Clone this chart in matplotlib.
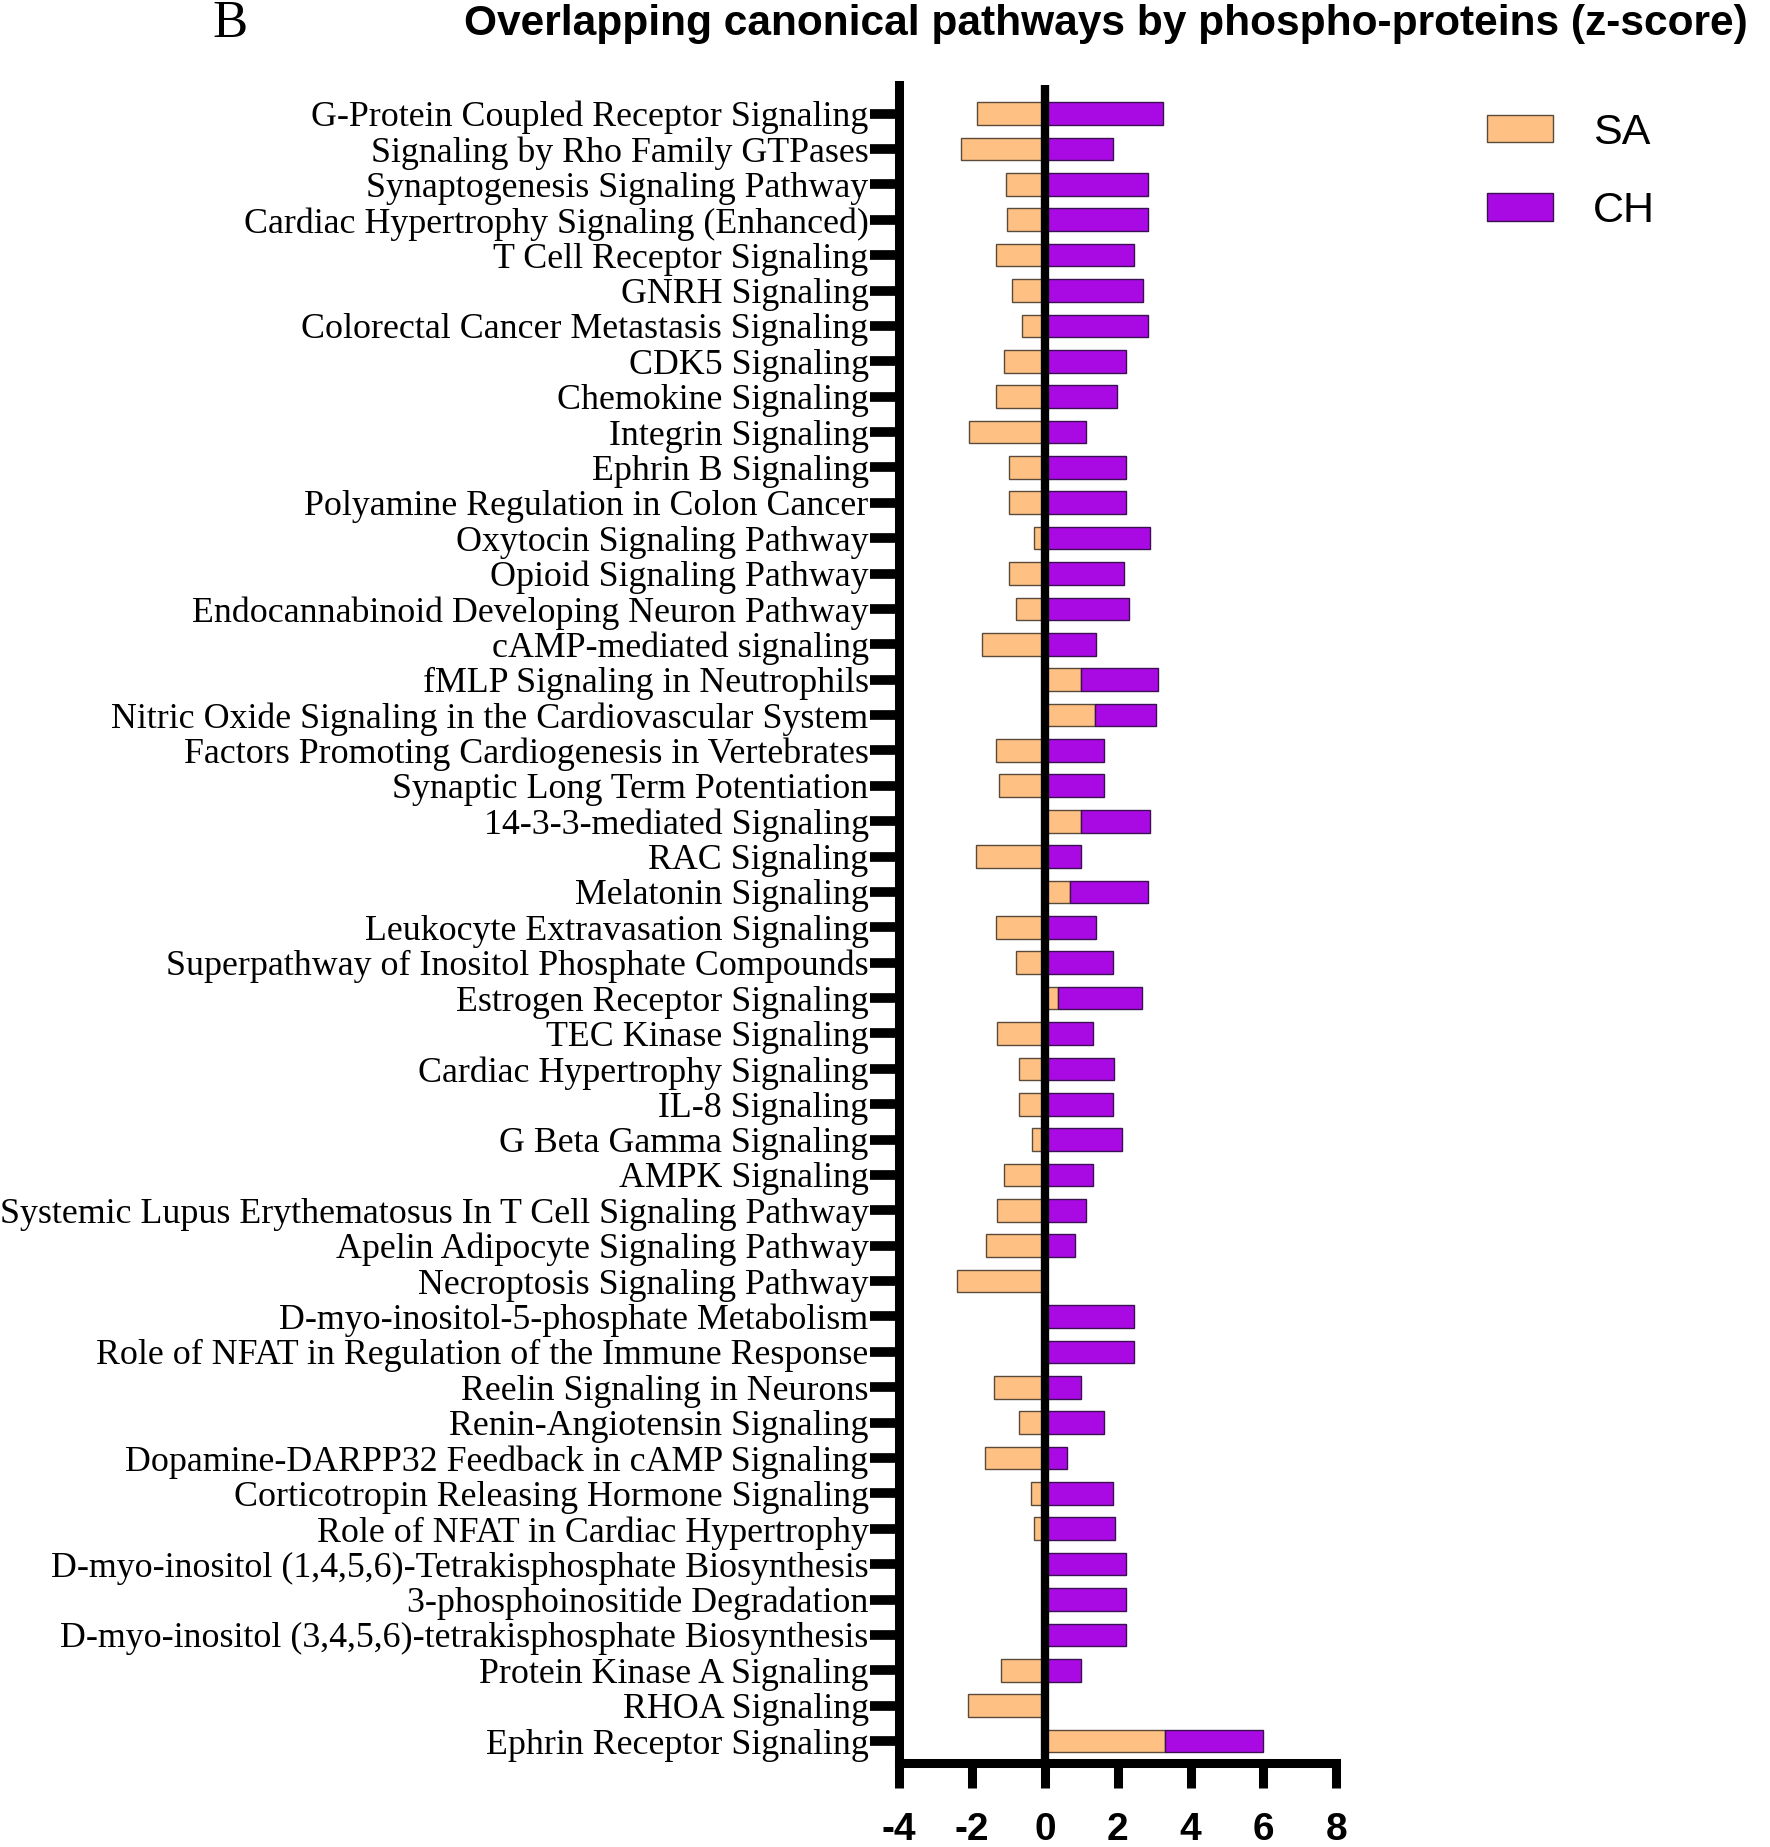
import numpy as np
import matplotlib
matplotlib.use("Agg")
import matplotlib.pyplot as plt
from matplotlib.patches import Patch

plt.rcParams["axes.unicode_minus"] = False

# Pathways, top to bottom
pathways = [
    "G-Protein Coupled Receptor Signaling",
    "Signaling by Rho Family GTPases",
    "Synaptogenesis Signaling Pathway",
    "Cardiac Hypertrophy Signaling (Enhanced)",
    "T Cell Receptor Signaling",
    "GNRH Signaling",
    "Colorectal Cancer Metastasis Signaling",
    "CDK5 Signaling",
    "Chemokine Signaling",
    "Integrin Signaling",
    "Ephrin B Signaling",
    "Polyamine Regulation in Colon Cancer",
    "Oxytocin Signaling Pathway",
    "Opioid Signaling Pathway",
    "Endocannabinoid Developing Neuron Pathway",
    "cAMP-mediated signaling",
    "fMLP Signaling in Neutrophils",
    "Nitric Oxide Signaling in the Cardiovascular System",
    "Factors Promoting Cardiogenesis in Vertebrates",
    "Synaptic Long Term Potentiation",
    "14-3-3-mediated Signaling",
    "RAC Signaling",
    "Melatonin Signaling",
    "Leukocyte Extravasation Signaling",
    "Superpathway of Inositol Phosphate Compounds",
    "Estrogen Receptor Signaling",
    "TEC Kinase Signaling",
    "Cardiac Hypertrophy Signaling",
    "IL-8 Signaling",
    "G Beta Gamma Signaling",
    "AMPK Signaling",
    "Systemic Lupus Erythematosus In T Cell Signaling Pathway",
    "Apelin Adipocyte Signaling Pathway",
    "Necroptosis Signaling Pathway",
    "D-myo-inositol-5-phosphate Metabolism",
    "Role of NFAT in Regulation of the Immune Response",
    "Reelin Signaling in Neurons",
    "Renin-Angiotensin Signaling",
    "Dopamine-DARPP32 Feedback in cAMP Signaling",
    "Corticotropin Releasing Hormone Signaling",
    "Role of NFAT in Cardiac Hypertrophy",
    "D-myo-inositol (1,4,5,6)-Tetrakisphosphate Biosynthesis",
    "3-phosphoinositide Degradation",
    "D-myo-inositol (3,4,5,6)-tetrakisphosphate Biosynthesis",
    "Protein Kinase A Signaling",
    "RHOA Signaling",
    "Ephrin Receptor Signaling",
]

# z-scores
sa = [
    -1.85, -2.31, -1.07, -1.04, -1.33, -0.90, -0.63, -1.11, -1.33, -2.09,
    -0.99, -0.99, -0.30, -0.99, -0.80, -1.72, 0.99, 1.38, -1.33, -1.26,
    0.99, -1.89, 0.69, -1.33, -0.80, 0.36, -1.31, -0.70, -0.70, -0.36,
    -1.12, -1.31, -1.62, -2.42, 0.0, 0.0, -1.41, -0.70, -1.64, -0.38,
    -0.30, 0.0, 0.0, 0.0, -1.21, -2.10, 3.30,
]
ch = [
    3.25, 1.87, 2.83, 2.83, 2.44, 2.70, 2.83, 2.23, 1.99, 1.12,
    2.23, 2.23, 2.88, 2.17, 2.32, 1.39, 2.11, 1.66, 1.63, 1.63,
    1.89, 0.99, 2.14, 1.39, 1.87, 2.31, 1.33, 1.90, 1.87, 2.11,
    1.33, 1.12, 0.82, 0.0, 2.44, 2.44, 0.99, 1.63, 0.60, 1.87,
    1.92, 2.23, 2.23, 2.23, 0.99, 0.0, 2.70,
]

SA_COLOR = "#FFC183"
CH_COLOR = "#A90AE3"

sa = np.array(sa)
ch = np.array(ch)
y = np.arange(len(pathways))
ch_left = np.clip(sa, 0, None)  # CH stacks on top of positive SA

fig = plt.figure(figsize=(17.7, 18.47), dpi=100)
ax = fig.add_axes([0.508, 0.0455, 0.247, 0.9085])

ax.barh(y, sa, height=0.64, color=SA_COLOR, edgecolor="#5a4a3a", linewidth=1.0, zorder=2)
ax.barh(y, ch, left=ch_left, height=0.64, color=CH_COLOR, edgecolor="#3a1050", linewidth=1.0, zorder=2)
ax.axvline(0, color="black", linewidth=6, zorder=3)

ax.set_xlim(-4, 8)
ax.set_ylim(len(pathways) - 1 + 0.62, -0.81)
ax.set_xticks([-4, -2, 0, 2, 4, 6, 8])
ax.set_yticks(y)
ax.set_yticklabels(pathways, fontfamily="Liberation Serif", fontsize=25.8)
for lbl in ax.get_xticklabels():
    lbl.set_fontfamily("Liberation Sans")
    lbl.set_fontweight("bold")
    lbl.set_fontsize(28)

for s in ("top", "right"):
    ax.spines[s].set_visible(False)
for s in ("left", "bottom"):
    ax.spines[s].set_linewidth(6.5)
    ax.spines[s].set_capstyle("projecting")
ax.tick_params(axis="y", length=21, width=7, pad=1)
ax.tick_params(axis="x", length=18, width=6.5, pad=17)

handles = [Patch(facecolor=SA_COLOR, edgecolor="#5a4a3a", label="SA"),
           Patch(facecolor=CH_COLOR, edgecolor="#3a1050", label="CH")]
fig.legend(handles=handles, loc="upper left", bbox_to_anchor=(0.833, 0.946),
           frameon=False, prop={"family": "Liberation Sans", "size": 31},
           handlelength=1.53, handleheight=0.62, labelspacing=0.9, handletextpad=0.93,
           borderaxespad=0, borderpad=0.3)

fig.text(0.262, 1 - 24 / 1847, "Overlapping canonical pathways by phospho-proteins (z-score)",
         fontfamily="Liberation Sans", fontweight="bold", fontsize=30.6, va="center", ha="left")
fig.text(0.120, 1 - 24 / 1847, "B", fontfamily="Liberation Serif", fontsize=38,
         va="center", ha="left")

fig.savefig("out.png", dpi=100, facecolor="white")
